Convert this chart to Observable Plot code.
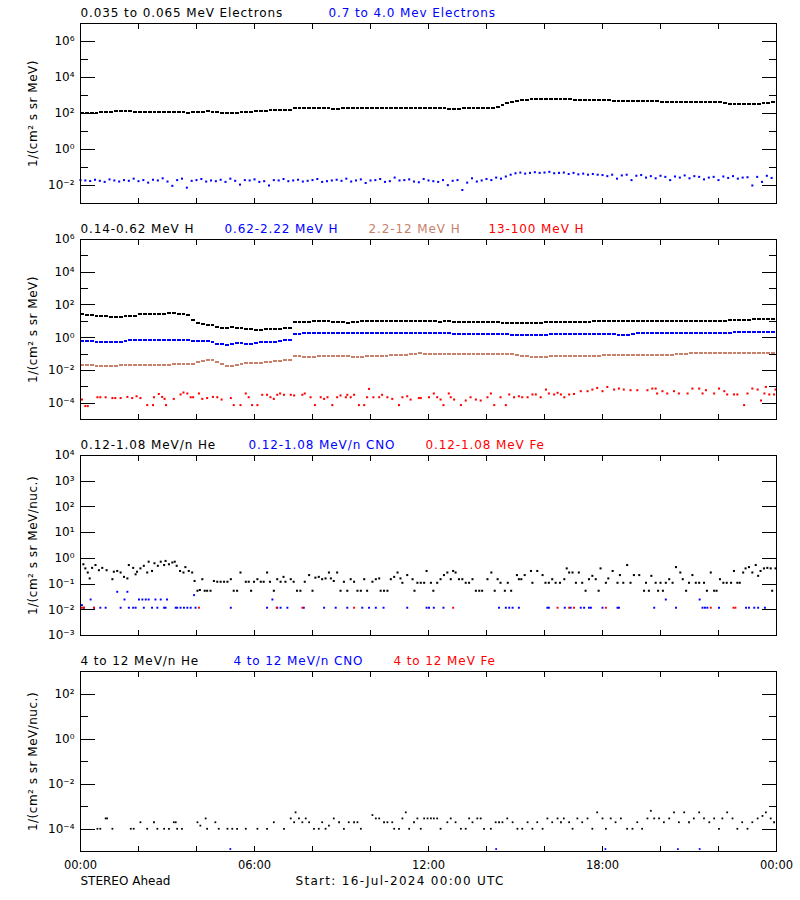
<!DOCTYPE html>
<html><head><meta charset="utf-8">
<script src="https://cdn.jsdelivr.net/npm/d3@7"></script>
<script src="https://cdn.jsdelivr.net/npm/@observablehq/plot@0.6"></script>
<style>
html,body{margin:0;padding:0;background:#fff;width:800px;height:900px;overflow:hidden}
#chart svg{display:block}
#chart svg g[aria-label="rule"], #chart svg g[aria-label="frame"], #chart svg g[aria-label$="tick"]{shape-rendering:crispEdges}
</style></head>
<body><div id="chart"></div>
<script>
// ---------------- DATA (log10 of flux) ----------------
// regularly sampled series: one value every 10 minutes from 00:00
const eLowLog = [
 2.04,2.04,2.04,2.05,2.08,2.10, 2.11,2.12,2.12,2.12,2.12,2.11, 2.11,2.10,2.10,2.09,2.08,2.08,
 2.07,2.07,2.06,2.06,2.05,2.06, 2.08,2.10,2.12,2.11,2.07,2.03, 2.03,2.04,2.05,2.07,2.09,2.11,
 2.13,2.15,2.16,2.17,2.17,2.17, 2.17,2.18,
 2.31,2.31,2.30,2.31,2.30,2.29, 2.30,2.28,2.26,2.27,2.29,2.30, 2.31,2.30,2.30,2.31,2.31,2.32,
 2.32,2.31,2.32,2.33,2.31,2.31, 2.30,2.31,2.31,2.30,2.31,2.30, 2.29,2.28,2.27,2.26,2.27,2.28,
 2.29,2.30,2.30,2.30,2.31,2.31, 2.35,2.46,2.57,2.65,2.71,2.74, 2.77,2.78,2.79,2.80,2.81,2.81,
 2.81,2.79,2.78,2.78,2.77,2.77, 2.76,2.76,2.76,2.75,2.74,2.73, 2.72,2.72,2.71,2.71,2.70,2.70,
 2.69,2.68,2.67,2.67,2.66,2.66, 2.66,2.66,2.65,2.66,2.65,2.64, 2.63,2.63,2.63,2.62,2.62,2.58,
 2.55,2.55,2.54,2.54,2.55,2.55, 2.55,2.56,2.60,2.63];
const eHighLog = [
 -1.70,-1.72,-1.75,-1.68,-1.74,-1.80,-1.66,-1.72,-1.78,-1.70,-1.74,-1.62,-1.76,-1.70,-1.84,-1.68,-1.72,-1.60,-1.78,-2.02,-1.70,-1.62,-2.12,-1.74,
 -1.70,-1.64,-1.78,-1.72,-1.76,-1.68,-1.80,-1.62,-1.74,-1.95,-1.70,-1.72,-1.66,-1.80,-1.76,-2.00,-1.70,-1.72,-1.64,-1.76,-1.72,-1.68,-1.78,-1.74,
 -1.70,-1.64,-1.80,-1.76,-1.72,-1.68,-1.74,-1.62,-1.78,-1.72,-1.66,-1.86,-1.72,-1.70,-1.64,-1.80,-1.76,-1.56,-1.72,-1.70,-1.66,-1.78,-1.82,-1.64,
 -1.72,-1.76,-1.80,-1.70,-1.98,-1.74,-1.70,-2.25,-1.84,-1.60,-1.78,-1.72,-1.64,-1.70,-1.56,-1.62,-1.50,-1.40,-1.32,-1.28,-1.34,-1.30,-1.26,-1.30,
 -1.28,-1.24,-1.32,-1.30,-1.28,-1.36,-1.30,-1.38,-1.34,-1.40,-1.36,-1.40,-1.42,-1.48,-1.40,-1.62,-1.44,-1.40,-1.70,-1.46,-1.42,-1.56,-1.48,-1.60,
 -1.46,-1.52,-1.70,-1.50,-1.56,-1.44,-1.60,-1.48,-1.52,-1.66,-1.56,-1.52,-1.70,-1.50,-1.58,-1.48,-1.62,-1.56,-1.54,-2.00,-1.52,-1.80,-1.46,-1.58];
const hLowLog = [
 1.42,1.40,1.37,1.34,1.31,1.30, 1.28,1.27,1.28,1.30,1.33,1.35, 1.44,1.46,1.46,1.45,1.44,1.46,
 1.50,1.48,1.44,1.42,1.38,1.10, 0.90,0.86,0.80,0.76,0.66,0.61, 0.62,0.63,0.62,0.58,0.53,0.52,
 0.49,0.50,0.51,0.53,0.54,0.55, 0.57,0.58,
 0.93,0.96,0.97,0.98,0.99,1.01, 1.00,0.99,0.97,0.95,0.93,0.91, 0.95,0.98,1.00,1.01,1.01,1.02,
 1.01,1.01,1.00,1.00,0.99,1.00, 1.02,1.03,1.01,1.00,0.99,0.99, 0.98,0.99,0.99,0.98,0.97,0.97,
 0.96,0.95,0.95,0.94,0.94,0.93, 0.93,0.92,0.92,0.91,0.91,0.90, 0.90,0.90,0.91,0.92,0.93,0.95,
 0.96,0.97,0.97,0.98,0.97,0.97, 0.98,0.98,0.99,0.99,1.02,1.03, 1.03,1.02,1.01,1.00,1.01,1.01,
 1.00,1.00,1.01,1.01,1.02,1.01, 1.01,1.02,1.01,1.01,1.02,1.02, 1.02,1.03,1.02,1.03,1.04,1.05,
 1.07,1.09,1.10,1.11,1.11,1.12, 1.13,1.15,1.17,1.14];
const hMidLog = [
 -0.18,-0.20,-0.22,-0.24,-0.25,-0.26, -0.27,-0.28,-0.26,-0.22,-0.16,-0.14, -0.14,-0.13,-0.14,-0.14,-0.13,-0.14,
 -0.14,-0.15,-0.14,-0.14,-0.16,-0.19, -0.20,-0.20,-0.21,-0.26,-0.36,-0.41, -0.44,-0.40,-0.30,-0.32,-0.38,-0.36,
 -0.30,-0.29,-0.27,-0.25,-0.24,-0.20, -0.17,-0.16,
 0.20,0.24,0.26,0.27,0.27,0.28, 0.27,0.27,0.28,0.27,0.26,0.27, 0.28,0.28,0.27,0.27,0.28,0.28,
 0.28,0.27,0.28,0.28,0.28,0.29, 0.28,0.28,0.29,0.28,0.28,0.27, 0.27,0.26,0.26,0.25,0.24,0.24,
 0.24,0.24,0.23,0.23,0.22,0.22, 0.21,0.20,0.20,0.19,0.18,0.18, 0.17,0.16,0.16,0.16,0.17,0.20,
 0.22,0.23,0.24,0.24,0.24,0.24, 0.24,0.24,0.24,0.24,0.24,0.23, 0.21,0.19,0.18,0.18,0.22,0.26,
 0.27,0.28,0.28,0.28,0.28,0.28, 0.28,0.27,0.28,0.28,0.28,0.28, 0.28,0.29,0.28,0.28,0.29,0.30,
 0.31,0.32,0.33,0.34,0.34,0.35, 0.35,0.36,0.36,0.36];
const hHighLog = [
 -1.65,-1.67,-1.69,-1.70,-1.70,-1.70, -1.70,-1.70,-1.69,-1.68,-1.66,-1.65, -1.64,-1.64,-1.64,-1.65,-1.65,-1.64,
 -1.64,-1.63,-1.63,-1.62,-1.60,-1.58, -1.50,-1.42,-1.36,-1.38,-1.46,-1.62, -1.70,-1.72,-1.66,-1.58,-1.55,-1.55,
 -1.55,-1.54,-1.50,-1.46,-1.43,-1.40, -1.39,-1.38,
 -1.14,-1.14,-1.15,-1.15,-1.15,-1.14, -1.14,-1.13,-1.12,-1.11,-1.12,-1.14, -1.17,-1.19,-1.18,-1.14,-1.11,-1.10,
 -1.09,-1.09,-1.08,-1.08,-1.06,-1.04, -1.00,-0.97,-0.96,-0.97,-0.98,-1.00, -1.01,-1.01,-1.00,-1.00,-1.00,-1.00,
 -1.00,-1.01,-1.00,-1.00,-1.01,-1.01, -1.01,-1.00,-1.01,-1.02,-1.06,-1.10, -1.14,-1.15,-1.15,-1.16,-1.15,-1.14,
 -1.14,-1.12,-1.10,-1.09,-1.09,-1.10, -1.09,-1.09,-1.09,-1.09,-1.08,-1.08, -1.08,-1.07,-1.06,-1.05,-1.05,-1.05,
 -1.05,-1.04,-1.05,-1.04,-1.04,-1.04, -1.03,-1.02,-1.00,-0.97,-0.96,-0.96, -0.96,-0.95,-0.96,-0.95,-0.96,-0.96,
 -0.95,-0.95,-0.96,-0.95,-0.94,-0.94, -0.93,-0.92,-0.93,-0.95];

// irregular series: [minutes after 00:00, log10 flux]
const hVHighPts = [[3,-3.78],[10,-4.18],[15,-4.18],[35,-3.64],[41,-3.64],[52,-3.64],[66,-3.69],[72,-3.69],[83,-3.69],[97,-3.62],[107,-3.69],[116,-3.58],[124,-3.69],[138,-4.12],[150,-4.12],[152,-3.64],[162,-3.44],[169,-3.62],[174,-3.74],[177,-4.12],[193,-3.74],[207,-3.47],[213,-3.35],[221,-3.41],[228,-3.64],[233,-3.64],[245,-3.41],[252,-3.74],[262,-3.69],[274,-3.62],[283,-3.64],[292,-3.78],[311,-3.69],[317,-4.12],[331,-4.12],[342,-3.41],[348,-3.64],[355,-4.12],[366,-4.12],[376,-3.49],[386,-3.49],[393,-3.64],[400,-3.74],[407,-3.49],[413,-3.41],[421,-3.49],[435,-3.49],[442,-3.53],[459,-3.49],[464,-3.41],[476,-3.64],[485,-4.12],[497,-3.64],[504,-3.74],[511,-3.64],[521,-4.12],[531,-3.64],[538,-3.53],[549,-3.64],[552,-3.49],[559,-3.64],[566,-3.49],[576,-4.12],[587,-4.12],[593,-3.64],[597,-3.13],[606,-3.64],[618,-3.64],[624,-3.49],[635,-3.64],[645,-3.74],[659,-4.12],
 [666,-3.64],[676,-3.58],[683,-3.78],[700,-3.69],[704,-3.69],[721,-3.64],[731,-3.41],[738,-3.64],[745,-3.78],[751,-4.12],[762,-3.41],[766,-3.64],[773,-3.78],[787,-4.12],[797,-3.84],[807,-3.64],[818,-3.78],[828,-3.84],[842,-3.64],[849,-3.41],[856,-4.12],[869,-3.64],[880,-4.12],[887,-3.47],[897,-3.64],[907,-3.58],[914,-3.64],[925,-3.64],[935,-3.47],[942,-3.47],[952,-3.64],[963,-3.17],[969,-3.41],[980,-3.47],[987,-3.37],[994,-3.47],[1001,-3.64],[1011,-3.47],[1021,-3.44],[1035,-3.27],[1049,-3.27],[1059,-3.17],[1069,-3.07],[1080,-3.27],[1090,-3.01],[1104,-3.17],[1114,-3.11],[1124,-3.17],[1138,-3.21],[1152,-3.21],[1173,-3.21],[1183,-3.11],[1190,-3.11],[1193,-3.41],[1204,-3.27],[1214,-3.41],[1228,-3.27],[1238,-3.41],[1256,-3.41],[1266,-3.11],[1280,-3.11],[1287,-3.41],[1294,-3.21],[1311,-3.41],[1321,-3.11],[1332,-3.27],[1338,-3.47],[1352,-3.47],[1359,-3.47],[1373,-4.12],[1380,-3.41],[1390,-3.11],[1401,-3.17],[1408,-3.84],[1415,-3.41],[1418,-3.01],[1425,-3.47],[1435,-3.47],[1438,-3.17]];

const heLowPts = [[6,-0.23],[10,-0.39],[15,-0.55],[19,-0.78],[24,-0.37],[31,-0.26],[38,-0.46],[45,-0.37],[54,-0.46],[66,-0.81],[69,-0.52],[76,-0.49],[83,-0.55],[90,-0.72],[97,-0.78],[100,-0.26],[109,-0.37],[114,-0.62],[117,-0.52],[124,-0.39],[131,-0.29],[138,-0.55],[141,-0.13],[148,-0.49],[153,-0.19],[160,-0.29],[166,-0.13],[173,-0.26],[176,-0.10],[183,-0.23],[190,-0.16],[195,-0.13],[199,-0.29],[206,-0.49],[213,-0.55],[217,-0.34],[224,-0.49],[231,-0.55],[236,-0.88],[242,-1.26],[247,-1.23],[252,-0.81],[257,-1.26],[262,-1.26],[269,-1.26],[276,-0.88],[283,-0.91],[290,-0.91],[297,-0.91],[304,-0.91],[311,-0.81],[317,-1.26],[324,-1.26],[331,-0.55],[342,-0.91],[348,-0.91],[353,-1.26],[359,-0.91],[366,-0.81],[373,-0.91],[379,-0.91],[386,-0.55],[392,-0.91],[400,-1.26],[407,-0.81],[414,-0.91],[420,-0.72],[424,-0.91],[435,-0.81],[441,-0.91],[448,-1.26],[455,-1.26],[464,-0.91],[473,-0.65],[480,-1.26],[486,-0.75],[493,-0.72],[500,-0.81],[507,-0.78],[514,-0.55],[518,-0.78],[524,-0.88],[531,-0.55],[538,-1.26],[545,-0.91],[552,-1.26],[559,-0.81],[566,-0.91],[573,-1.26],[580,-1.26],[587,-0.81],[593,-1.26],[604,-0.91],[611,-0.81],[618,-0.78],[621,-1.26],[628,-1.26],[635,-1.26],[642,-0.81],[649,-0.72],[656,-0.55],[662,-0.78],
 [666,-0.95],[676,-0.65],[687,-0.81],[691,-1.26],[697,-0.95],[704,-0.95],[711,-0.95],[716,-0.49],[725,-0.95],[730,-1.26],[738,-0.95],[745,-0.81],[752,-0.65],[759,-0.55],[766,-0.81],[771,-0.49],[776,-0.55],[783,-0.81],[790,-0.81],[797,-0.95],[804,-0.95],[811,-0.81],[818,-1.26],[825,-1.26],[831,-1.26],[842,-0.81],[850,-0.55],[857,-1.26],[863,-0.81],[869,-0.95],[878,-1.26],[884,-0.95],[891,-1.26],[903,-0.65],[907,-0.81],[912,-0.81],[919,-0.65],[932,-0.49],[935,-0.95],[945,-0.49],[956,-0.65],[962,-0.95],[969,-0.95],[976,-0.81],[983,-0.95],[992,-0.95],[1001,-0.81],[1006,-0.39],[1011,-0.55],[1018,-0.55],[1025,-0.95],[1031,-0.55],[1038,-0.95],[1045,-1.26],[1052,-0.81],[1059,-0.68],[1066,-0.81],[1072,-1.26],[1076,-0.39],[1087,-0.95],[1092,-0.78],[1101,-0.49],[1111,-0.95],[1116,-0.65],[1123,-0.95],[1131,-0.26],[1138,-0.95],[1145,-0.65],[1156,-0.65],[1166,-1.26],[1170,-0.95],[1176,-1.26],[1181,-0.68],[1190,-0.95],[1195,-1.26],[1200,-0.95],[1205,-1.26],[1211,-0.95],[1218,-0.81],[1225,-0.95],[1232,-0.34],[1241,-0.55],[1246,-0.81],[1253,-1.26],[1259,-0.95],[1266,-0.65],[1273,-0.95],[1280,-0.95],[1290,-0.95],[1296,-1.26],[1304,-0.55],[1311,-1.26],[1316,-1.26],[1323,-0.81],[1330,-0.95],[1337,-0.95],[1346,-0.95],[1352,-0.49],[1359,-0.95],[1364,-0.95],[1371,-0.55],[1376,-0.39],[1383,-0.34],[1390,-0.55],[1397,-0.26],[1402,-0.68],[1407,-0.49],[1414,-0.39],[1421,-0.37],[1428,-0.39],[1431,-1.26],[1438,-0.39]];
const cnoLowPts = [[3,-1.82],[7,-1.92],[21,-1.60],[28,-1.92],[41,-1.92],[52,-1.92],[76,-1.30],[83,-1.92],[91,-1.60],[97,-1.30],[100,-1.92],[109,-1.92],[114,-1.92],[121,-1.60],[128,-1.60],[131,-1.92],[135,-1.60],[141,-1.60],[148,-1.92],[155,-1.60],[159,-1.92],[166,-1.60],[173,-1.92],[176,-1.92],[179,-1.60],[197,-1.92],[200,-1.92],[207,-1.92],[214,-1.92],[221,-1.92],[228,-1.92],[235,-1.43],[238,-1.92],[311,-1.92],[386,-1.92],[397,-1.60],[407,-1.92],[414,-1.92],[428,-1.92],[462,-1.92],[504,-1.92],[528,-1.92],[552,-1.92],[583,-1.92],[597,-1.92],[611,-1.92],[627,-1.92],[676,-1.92],[716,-1.92],[721,-1.92],[731,-1.92],[751,-1.92],[866,-1.92],[880,-1.92],[887,-1.92],[894,-1.92],[907,-1.92],[966,-1.92],[969,-1.92],[1002,-1.92],[1014,-1.92],[1035,-1.92],[1042,-1.92],[1052,-1.92],[1056,-1.92],[1080,-1.92],[1111,-1.92],[1114,-1.92],[1187,-1.92],[1211,-1.60],[1232,-1.92],[1281,-1.60],[1287,-1.92],[1292,-1.92],[1297,-1.92],[1321,-1.92],[1377,-1.92],[1383,-1.92],[1394,-1.92],[1402,-1.92],[1416,-1.92]];
const feLowPts = [[3,-1.92],[7,-1.92],[28,-1.92],[245,-1.92],[406,-1.92],[459,-1.92],[566,-1.92],[771,-1.92],[987,-1.92],[1011,-1.92],[1021,-1.92],[1087,-1.92],[1304,-1.92],[1351,-1.92],[1355,-1.92]];

const heHighPts = [[35,-3.99],[41,-3.99],[52,-3.53],[55,-3.53],[66,-3.99],[104,-3.99],[110,-3.99],[124,-3.70],[138,-3.99],[152,-3.70],[159,-3.99],[173,-3.99],[183,-3.99],[193,-3.70],[197,-3.70],[200,-3.99],[210,-3.99],[242,-3.70],[248,-3.85],[259,-3.53],[262,-3.99],[279,-3.70],[286,-3.99],[304,-3.99],[314,-3.99],[324,-3.99],[342,-3.99],[366,-3.99],[386,-3.99],[400,-3.70],[421,-3.99],[435,-3.53],[442,-3.70],[445,-3.26],[452,-3.53],[459,-3.70],[466,-3.53],[473,-3.70],[483,-3.99],[493,-3.99],[500,-3.70],[507,-3.99],[514,-3.85],[524,-3.53],[535,-3.70],[545,-3.99],[555,-3.70],[566,-3.70],[573,-3.70],[580,-3.99],[604,-3.38],[611,-3.53],[618,-3.53],[628,-3.70],[635,-3.70],[645,-3.70],[649,-3.99],[659,-3.99],
 [666,-3.53],[673,-3.26],[680,-3.99],[690,-3.70],[697,-3.53],[704,-3.99],[711,-3.53],[718,-3.53],[725,-3.53],[731,-3.53],[738,-3.53],[745,-3.99],[759,-3.70],[766,-3.53],[776,-3.70],[787,-3.99],[797,-3.99],[804,-3.53],[811,-3.70],[821,-3.53],[828,-3.53],[835,-3.99],[849,-3.99],[859,-3.70],[866,-3.70],[873,-3.70],[883,-3.53],[894,-3.70],[904,-3.99],[914,-3.99],[925,-3.70],[935,-3.99],[945,-3.70],[956,-3.99],[966,-3.53],[976,-3.70],[987,-3.53],[994,-3.70],[1000,-3.53],[1011,-3.70],[1018,-3.99],[1028,-3.53],[1038,-3.70],[1049,-3.53],[1059,-3.99],[1069,-3.26],[1080,-3.53],[1087,-3.99],[1097,-3.53],[1107,-3.70],[1118,-3.53],[1131,-3.99],[1142,-3.99],[1152,-3.70],[1162,-3.99],[1173,-3.53],[1180,-3.19],[1187,-3.53],[1197,-3.53],[1207,-3.70],[1218,-3.53],[1228,-3.26],[1238,-3.70],[1249,-3.26],[1259,-3.70],[1269,-3.53],[1280,-3.26],[1290,-3.53],[1301,-3.70],[1311,-3.53],[1321,-3.99],[1328,-3.53],[1338,-3.26],[1349,-3.53],[1359,-3.99],[1369,-3.70],[1380,-3.99],[1390,-3.70],[1401,-3.53],[1411,-3.42],[1418,-3.26],[1428,-3.53],[1435,-3.70]];
const cnoHighPts = [[310,-4.89],[860,-4.89],[1086,-4.89],[1236,-4.89],[1281,-4.89]];
const feHighPts = [];

// ---------------- TEXT / TICKS ----------------
const titles1 = ["0.035 to 0.065 MeV Electrons", "0.7 to 4.0 Mev Electrons"];
const titles2 = ["0.14-0.62 MeV H", "0.62-2.22 MeV H", "2.2-12 MeV H", "13-100 MeV H"];
const titles3 = ["0.12-1.08 MeV/n He", "0.12-1.08 MeV/n CNO", "0.12-1.08 MeV Fe"];
const titles4 = ["4 to 12 MeV/n He", "4 to 12 MeV/n CNO", "4 to 12 MeV Fe"];
const yTitleA = "1/(cm\u00B2 s sr MeV)";
const yTitleB = "1/(cm\u00B2 s sr MeV/nuc.)";
const footLeft = "STEREO Ahead";
const footStart = "Start: 16-Jul-2024 00:00 UTC";
const hourTickMinutes = [0, 360, 720, 1080, 1440];
const hourTickLabels = ["00:00", "06:00", "12:00", "18:00", "00:00"];
const xTickMinutes = [120, 240, 360, 480, 600, 720, 840, 960, 1080, 1200, 1320];
const p1Major = [1e-2, 1e0, 1e2, 1e4, 1e6], p1Minor = [1e-1, 1e1, 1e3, 1e5];
const p2Major = [1e-4, 1e-2, 1e0, 1e2, 1e4, 1e6], p2Minor = [1e-3, 1e-1, 1e1, 1e3, 1e5];
const p3Major = [1e-3, 1e-2, 1e-1, 1e0, 1e1, 1e2, 1e3, 1e4], p3Minor = [];
const p4Major = [1e-4, 1e-2, 1e0, 1e2], p4Minor = [1e-3, 1e-1, 1e1];

// ---------------- BUILD ----------------
const FONT = "DejaVu Sans";
const BLUE = "#0000ff", RED = "#ff0000", SIENNA = "#c8806a", BLACK = "#000000";
const CADENCE = 10;
const rowsFromSeries = logs => logs.map((v, i) => ({m: i * CADENCE, y: Math.pow(10, v)}));
const rowsFromPairs = pairs => pairs.map(([m, v]) => ({m, y: Math.pow(10, v)}));
const supMap = {"-": "\u207B", "0": "\u2070", "1": "\u00B9", "2": "\u00B2", "3": "\u00B3", "4": "\u2074", "5": "\u2075", "6": "\u2076", "7": "\u2077", "8": "\u2078", "9": "\u2079"};
const powLabel = d => "10" + String(Math.round(Math.log10(d))).split("").map(c => supMap[c]).join("");

const panels = [
  {yDomain: [1e-3, 1e7], major: p1Major, minor: p1Minor, yTitle: yTitleA,
   titles: [[titles1[0], BLACK, 0], [titles1[1], BLUE, 248]],
   lines: [[rowsFromSeries(eLowLog), BLACK]],
   dots: [[rowsFromSeries(eHighLog), BLUE, 1.15]]},
  {yDomain: [1e-5, 1e6], major: p2Major, minor: p2Minor, yTitle: yTitleA,
   titles: [[titles2[0], BLACK, 0], [titles2[1], BLUE, 144], [titles2[2], SIENNA, 288], [titles2[3], RED, 408]],
   lines: [[rowsFromSeries(hLowLog), BLACK], [rowsFromSeries(hMidLog), BLUE], [rowsFromSeries(hHighLog), SIENNA]],
   dots: [[rowsFromPairs(hVHighPts), RED, 1.15]]},
  {yDomain: [1e-3, 1e4], major: p3Major, minor: p3Minor, yTitle: yTitleB,
   titles: [[titles3[0], BLACK, 0], [titles3[1], BLUE, 168], [titles3[2], RED, 345]],
   lines: [],
   dots: [[rowsFromPairs(heLowPts), BLACK, 1.15], [rowsFromPairs(cnoLowPts), BLUE, 1.1], [rowsFromPairs(feLowPts), RED, 1.1]]},
  {yDomain: [1e-5, 1e3], major: p4Major, minor: p4Minor, yTitle: yTitleB,
   titles: [[titles4[0], BLACK, 0], [titles4[1], BLUE, 153], [titles4[2], RED, 313]],
   lines: [],
   dots: [[rowsFromPairs(heHighPts), BLACK, 1.0], [rowsFromPairs(cnoHighPts), BLUE, 1.0], [rowsFromPairs(feHighPts), RED, 1.0]]}
];

const chart = document.getElementById("chart");
panels.forEach((p, k) => {
  const last = k === panels.length - 1;
  const marks = [];
  for (const [rows, color] of p.lines) {
    marks.push(Plot.ruleY(rows, {x1: "m", x2: d => d.m + 8, y: "y", stroke: color, strokeWidth: 2}));
  }
  for (const [rows, color, r] of p.dots) {
    if (rows.length) marks.push(Plot.dot(rows, {x: "m", y: "y", symbol: "square", r, fill: color}));
  }
  marks.push(Plot.frame({stroke: "#000", strokeWidth: 1}));
  // y ticks (inward) and labels
  marks.push(Plot.axisY(p.major, {anchor: "left", tickSize: 15, dx: 15, tickFormat: () => "", label: null}));
  marks.push(Plot.axisY(p.major, {anchor: "right", tickSize: 15, dx: -15, tickFormat: () => "", label: null}));
  if (p.minor.length) {
    marks.push(Plot.axisY(p.minor, {anchor: "left", tickSize: 8, dx: 8, tickFormat: () => "", label: null}));
    marks.push(Plot.axisY(p.minor, {anchor: "right", tickSize: 8, dx: -8, tickFormat: () => "", label: null}));
  }
  marks.push(Plot.axisY(p.major, {anchor: "left", tickSize: 0, tickPadding: 6, tickFormat: powLabel, label: null, fontSize: 12}));
  // x ticks (inward) top and bottom
  marks.push(Plot.axisX(xTickMinutes, {anchor: "bottom", tickSize: 5, dy: -5, tickFormat: () => "", label: null}));
  marks.push(Plot.axisX(xTickMinutes, {anchor: "top", tickSize: 5, dy: 5, tickFormat: () => "", label: null}));
  // titles
  for (const [t, color, off] of p.titles) {
    marks.push(Plot.text([t], {text: d => d, frameAnchor: "top-left", textAnchor: "start", lineAnchor: "middle", dx: off, dy: -10, fill: color, fontSize: 12}));
  }
  marks.push(Plot.text([p.yTitle], {text: d => d, frameAnchor: "left", textAnchor: "middle", lineAnchor: "middle", rotate: -90, dx: -47, fontSize: 12, fill: "#000"}));
  if (last) {
    marks.push(Plot.axisX(hourTickMinutes, {anchor: "bottom", tickSize: 0, tickPadding: 9, tickFormat: d => hourTickLabels[hourTickMinutes.indexOf(d)], label: null, fontSize: 11.5}));
    marks.push(Plot.text([footLeft], {text: d => d, frameAnchor: "bottom-left", textAnchor: "start", lineAnchor: "middle", dy: 30, fontSize: 12}));
    marks.push(Plot.text([footStart], {text: d => d, frameAnchor: "bottom-left", textAnchor: "start", lineAnchor: "middle", dx: 215, dy: 30, fontSize: 12}));
  }
  const svg = Plot.plot({
    width: 800,
    height: last ? 252 : 216,
    marginLeft: 80, marginRight: 24, marginTop: 23, marginBottom: last ? 49 : 13,
    x: {domain: [0, 1440], axis: null},
    y: {type: "log", domain: p.yDomain, axis: null},
    style: {fontFamily: FONT, fontSize: "12px", background: "#fff", overflow: "visible", color: "#000"},
    marks
  });
  const allTitles = new Set([...titles1, ...titles2, ...titles3, ...titles4]);
  d3.select(svg).selectAll("text").each(function () {
    const s = this.textContent;
    if (allTitles.has(s)) this.style.letterSpacing = "0.9px";
    else if (s === footStart) this.style.letterSpacing = "1.3px";
    else if (s === yTitleA || s === yTitleB) this.style.letterSpacing = "0.5px";
  });
  chart.appendChild(svg);
});
</script>
</body></html>
